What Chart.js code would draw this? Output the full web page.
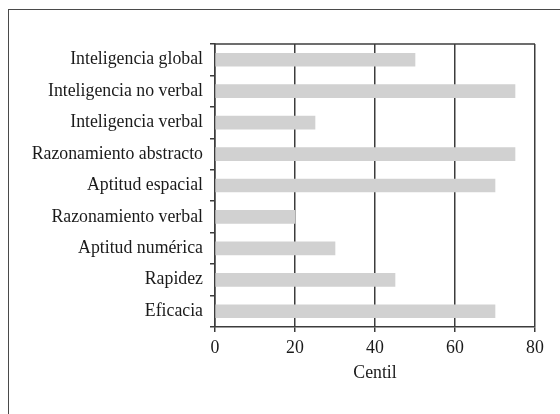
<!DOCTYPE html>
<html>
<head>
<meta charset="utf-8">
<script src="https://cdn.jsdelivr.net/npm/chart.js@4"></script>
<style>
  html, body { margin: 0; padding: 0; background: #fff; }
  #wrap { position: relative; width: 560px; height: 414px; overflow: hidden; }
  #frame {
    position: absolute; left: 8px; top: 9px; width: 600px; height: 460px;
    border-left: 1.5px solid #4a4a4a; border-top: 1.5px solid #4a4a4a;
  }
  canvas { position: absolute; left: 0; top: 0; }
</style>
</head>
<body>
<div id="wrap">
  <div id="frame"></div>
  <canvas id="chart" width="560" height="414"></canvas>
</div>
<script>
const categories = [
  "Inteligencia global",
  "Inteligencia no verbal",
  "Inteligencia verbal",
  "Razonamiento abstracto",
  "Aptitud espacial",
  "Razonamiento verbal",
  "Aptitud numérica",
  "Rapidez",
  "Eficacia"
];
const centiles = [50, 75, 25, 75, 70, 20, 30, 45, 70];
const xTicks = [0, 20, 40, 60, 80];

const serif = "'Liberation Serif', 'DejaVu Serif', serif";
const lineColor = "#3c3c3c";
const textColor = "#1a1a1a";

// top edge of the plot box
const topFrame = {
  id: "topFrame",
  afterDraw(chart) {
    const { ctx, chartArea } = chart;
    ctx.save();
    ctx.strokeStyle = lineColor;
    ctx.lineWidth = 1.5;
    ctx.beginPath();
    ctx.moveTo(chartArea.left, chartArea.top);
    ctx.lineTo(chartArea.right, chartArea.top);
    ctx.stroke();
    ctx.restore();
  }
};

new Chart(document.getElementById("chart"), {
  type: "bar",
  data: {
    labels: categories,
    datasets: [{
      data: centiles,
      backgroundColor: "#d1d1d1",
      borderWidth: 0,
      barThickness: 13
    }]
  },
  plugins: [topFrame],
  options: {
    indexAxis: "y",
    responsive: false,
    animation: false,
    layout: { padding: { left: 0, top: 44, right: 25, bottom: 0 } },
    plugins: { legend: { display: false }, tooltip: { enabled: false } },
    scales: {
      x: {
        min: 0,
        max: 80,
        afterBuildTicks(scale) { scale.ticks = xTicks.map(v => ({ value: v })); },
        afterFit(scale) { scale.height = 87; },
        grid: { color: lineColor, lineWidth: 1.5, tickLength: 5 },
        border: { color: lineColor, width: 1.5 },
        ticks: { color: textColor, padding: 6, font: { family: serif, size: 17.8 } },
        title: {
          display: true,
          text: "Centil",
          color: textColor,
          font: { family: serif, size: 17.8 },
          padding: { top: 0, bottom: 30 }
        }
      },
      y: {
        afterFit(scale) { scale.width = 215; },
        grid: { drawOnChartArea: false, offset: true, color: lineColor, lineWidth: 1.5, tickLength: 5 },
        border: { color: lineColor, width: 1.5 },
        ticks: { color: textColor, padding: 7, font: { family: serif, size: 17.8 } }
      }
    }
  }
});
</script>
</body>
</html>
